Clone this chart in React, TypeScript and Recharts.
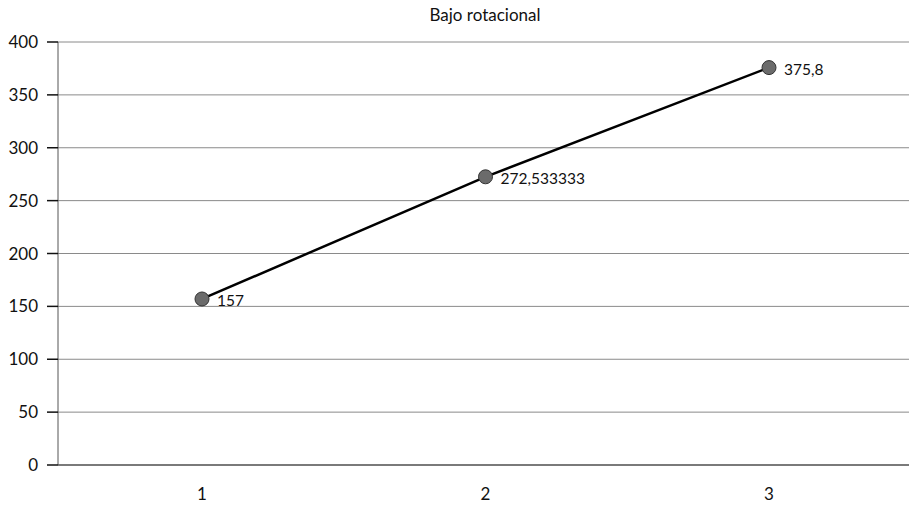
import { LineChart, Line, XAxis, YAxis, CartesianGrid, LabelList } from 'recharts';

const categories = ['1', '2', '3'];
const values = [157, 272.533333, 375.8];
const valueLabels = ['157', '272,533333', '375,8'];
const yTicks = [0, 50, 100, 150, 200, 250, 300, 350, 400];

const chartData = categories.map((name, i) => ({
  name,
  value: values[i],
  label: valueLabels[i],
}));

const FONT = 'Lato, "Open Sans", sans-serif';

const App = () => {
  return (
    <div
      style={{
        position: 'absolute',
        top: 0,
        left: 0,
        width: 909,
        height: 507,
        overflow: 'visible',
        fontFamily: FONT,
      }}
    >
      <div
        style={{
          position: 'absolute',
          top: 4,
          left: 59,
          width: 852,
          textAlign: 'center',
          fontSize: 17,
          color: '#111',
        }}
      >
        Bajo rotacional
      </div>
      <LineChart
        width={909}
        height={507}
        data={chartData}
        margin={{ top: 42, right: 0, left: 0, bottom: 0 }}
        style={{ overflow: 'visible' }}
      >
        <CartesianGrid vertical={false} stroke="#8a8a8a" strokeWidth={1} />
        <XAxis
          dataKey="name"
          height={42}
          axisLine={{ stroke: '#7a7a7a', strokeWidth: 2 }}
          tickLine={false}
          tickSize={0}
          tickMargin={23}
          padding={{ left: 144, right: 140 }}
          tick={{ fill: '#111', fontSize: 17, fontFamily: FONT }}
        />
        <YAxis
          width={58}
          domain={[0, 400]}
          ticks={yTicks}
          interval={0}
          axisLine={{ stroke: '#555', strokeWidth: 1 }}
          tickLine={{ stroke: '#111', strokeWidth: 1.5 }}
          tickSize={11}
          tickMargin={9}
          tick={{ fill: '#111', fontSize: 17, fontFamily: FONT }}
        />
        <Line
          type="linear"
          dataKey="value"
          stroke="#000"
          strokeWidth={2.5}
          isAnimationActive={false}
          dot={{ r: 7, fill: '#6b6b6b', stroke: '#333', strokeWidth: 1 }}
          activeDot={false}
        >
          <LabelList
            dataKey="label"
            position="right"
            offset={15}
            dy={2}
            style={{ fill: '#111', fontSize: 15.5, fontFamily: FONT }}
          />
        </Line>
      </LineChart>
    </div>
  );
};

export default App;
